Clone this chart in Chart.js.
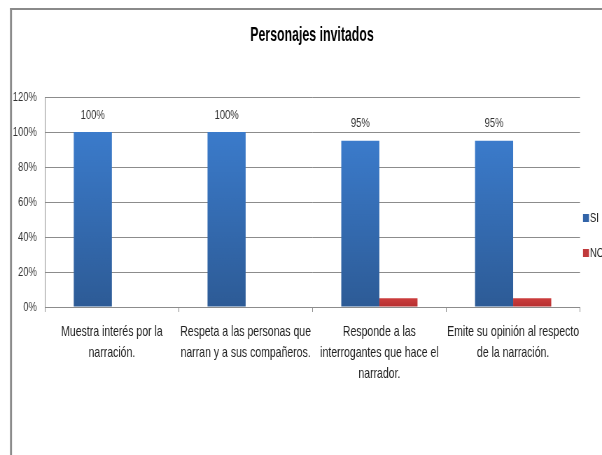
<!DOCTYPE html>
<html>
<head>
<meta charset="utf-8">
<script src="https://cdn.jsdelivr.net/npm/chart.js@4"></script>
<style>
  html, body { margin: 0; padding: 0; background: #fff; overflow: hidden; }
  /* the original text is very condensed: draw wide and squeeze horizontally */
  #wrap { width: 860px; height: 455px; transform: scaleX(0.7); transform-origin: 0 0; }
</style>
</head>
<body>
<div id="wrap"><canvas id="chart" width="860" height="455"></canvas></div>
<script>
// Chart data
const chartTitle = 'Personajes invitados';
const categories = [
    ['Muestra interés por la', 'narración.'],
    ['Respeta a las personas que', 'narran y a sus compañeros.'],
    ['Responde a las', 'interrogantes que hace el', 'narrador.'],
    ['Emite su opinión al respecto', 'de la narración.']
];
const seriesNames = ['SI', 'NO'];
const siValues = [100, 100, 95, 95];
const noValues = [0, 0, 5, 5];
const yTicks = [0, 20, 40, 60, 80, 100, 120];

const SX = 1 / 0.7;   // horizontal unit before the squeeze
const FONT = "'Liberation Sans', Arial, sans-serif";
const GRID = '#8c8c8c';

// vertical gradient per bar, from its top down to the baseline
function barGradient(top, bottom) {
    return function(context) {
        const chart = context.chart;
        const area = chart.chartArea;
        if (!area || context.type !== 'data') return top;
        const yScale = chart.scales.y;
        const yTop = yScale.getPixelForValue(context.raw);
        const yBase = yScale.getPixelForValue(0);
        if (yBase - yTop < 1) return top;
        const g = chart.ctx.createLinearGradient(0, yTop, 0, yBase);
        g.addColorStop(0, top);
        g.addColorStop(1, bottom);
        return g;
    };
}

// frame around the chart (only left and top edges are visible in the picture)
const framePlugin = {
    id: 'frame',
    beforeDraw(chart) {
        const ctx = chart.ctx;
        ctx.save();
        ctx.fillStyle = '#8a8a8a';
        ctx.fillRect(10 * SX, 8, 2 * SX, 447);
        ctx.fillRect(10 * SX, 8, chart.width, 2);
        ctx.restore();
    }
};

// title, a bit more condensed than the rest of the text
const titlePlugin = {
    id: 'bigTitle',
    afterDraw(chart) {
        const ctx = chart.ctx;
        ctx.save();
        ctx.translate(312 * SX, 35);
        ctx.scale(0.84, 1);
        ctx.font = 'bold 21px ' + FONT;
        ctx.fillStyle = '#000';
        ctx.textAlign = 'center';
        ctx.textBaseline = 'middle';
        ctx.fillText(chartTitle, 0, 0);
        ctx.restore();
    }
};

// value labels above the SI bars
const valueLabels = {
    id: 'valueLabels',
    afterDatasetsDraw(chart) {
        const ctx = chart.ctx;
        const meta = chart.getDatasetMeta(0);
        ctx.save();
        ctx.font = '13.5px ' + FONT;
        ctx.fillStyle = '#333';
        ctx.textAlign = 'center';
        ctx.textBaseline = 'middle';
        meta.data.forEach((bar, i) => {
            ctx.fillText(siValues[i] + '%', bar.x, bar.y - 17);
        });
        ctx.restore();
    }
};

// legend at the right edge, partly cut off like the original
const sideLegend = {
    id: 'sideLegend',
    afterDraw(chart) {
        const ctx = chart.ctx;
        const colors = ['#3264a8', '#c0393b'];
        ctx.save();
        ctx.font = '13.5px ' + FONT;
        ctx.textBaseline = 'middle';
        seriesNames.forEach((name, i) => {
            const y = 218 + i * 35;
            ctx.fillStyle = colors[i];
            ctx.fillRect(583 * SX, y - 4, 6 * SX, 8);
            ctx.fillStyle = '#222';
            ctx.fillText(name, 590 * SX, y);
        });
        ctx.restore();
    }
};

new Chart(document.getElementById('chart'), {
    type: 'bar',
    data: {
        labels: categories,
        datasets: [
            {
                label: seriesNames[0],
                data: siValues,
                backgroundColor: barGradient('#3b7bcb', '#2d5b96')
            },
            {
                label: seriesNames[1],
                data: noValues,
                backgroundColor: barGradient('#cc3d3d', '#b52f30')
            }
        ]
    },
    options: {
        responsive: false,
        animation: false,
        layout: { padding: { left: 10 * SX, right: 22 * SX, top: 97, bottom: 0 } },
        datasets: {
            bar: { categoryPercentage: 0.57, barPercentage: 1.0 }
        },
        plugins: {
            legend: { display: false },
            tooltip: { enabled: false },
            title: { display: false }
        },
        scales: {
            x: {
                afterFit(scale) { scale.height = 148; },
                grid: {
                    drawOnChartArea: false,
                    drawTicks: true,
                    tickLength: 5,
                    color: GRID
                },
                border: { color: GRID },
                ticks: {
                    color: '#222',
                    padding: 10,
                    maxRotation: 0,
                    autoSkip: false,
                    font: { family: FONT, size: 15, lineHeight: 1.37 }
                }
            },
            y: {
                min: 0,
                max: 120,
                afterFit(scale) { scale.width = 35 * SX; },
                afterBuildTicks(scale) {
                    scale.ticks = yTicks.map(v => ({ value: v }));
                },
                grid: { drawTicks: false, color: GRID },
                border: { color: GRID },
                ticks: {
                    color: '#333',
                    padding: 8 * SX,
                    font: { family: FONT, size: 13.5 },
                    callback: v => v + '%'
                }
            }
        }
    },
    plugins: [framePlugin, titlePlugin, valueLabels, sideLegend]
});
</script>
</body>
</html>
